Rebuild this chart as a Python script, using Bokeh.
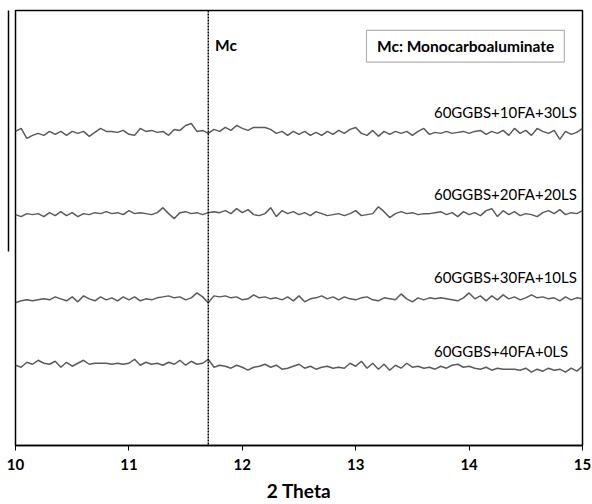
from bokeh.plotting import figure
from bokeh.models import LinearAxis, Span, Label, BoxAnnotation, FixedTicker, ColumnDataSource
from bokeh.embed import file_html
from bokeh.resources import INLINE

# 2-theta sampling grid (degrees)
two_theta = [round(10 + 0.05 * i, 2) for i in range(101)]

# Intensity (a.u., stacked patterns)
s_10fa_30ls = [
    317, 320, 310, 313, 315, 313, 317, 314, 317, 313,
    317, 315, 317, 312, 316, 320, 317, 317, 316, 318,
    314, 313, 320, 317, 318, 316, 317, 313, 319, 318,
    323, 325, 317, 318, 315, 319, 317, 321, 318, 323,
    320, 318, 321, 321, 321, 319, 315, 317, 313, 317,
    314, 317, 313, 316, 313, 317, 314, 318, 315, 319,
    321, 315, 313, 318, 312, 317, 314, 317, 315, 317,
    313, 317, 320, 314, 316, 315, 317, 315, 316, 317,
    315, 317, 318, 314, 317, 315, 318, 313, 320, 315,
    318, 313, 320, 317, 315, 318, 309, 317, 314, 316,
    320]
s_20fa_20ls = [
    233, 231, 234, 233, 234, 231, 235, 232, 236, 232,
    235, 231, 234, 233, 235, 234, 236, 234, 235, 233,
    237, 234, 235, 234, 233, 235, 240, 234, 229, 235,
    236, 234, 235, 233, 235, 236, 235, 237, 234, 239,
    235, 238, 233, 232, 234, 240, 231, 237, 234, 236,
    233, 235, 232, 236, 234, 232, 233, 234, 232, 234,
    237, 232, 233, 234, 241, 236, 230, 234, 236, 234,
    235, 233, 234, 234, 235, 236, 233, 235, 231, 236,
    233, 235, 232, 237, 239, 231, 237, 233, 236, 232,
    234, 233, 231, 235, 237, 234, 238, 233, 235, 234,
    237]
s_30fa_10ls = [
    144, 146, 147, 146, 147, 148, 147, 150, 148, 146,
    150, 145, 151, 148, 146, 150, 147, 149, 146, 150,
    147, 150, 146, 148, 147, 149, 150, 151, 149, 150,
    147, 149, 154, 150, 144, 151, 150, 151, 149, 150,
    147, 148, 152, 149, 150, 148, 149, 147, 150, 146,
    151, 145, 148, 149, 151, 148, 150, 147, 150, 148,
    147, 149, 150, 147, 146, 149, 148, 147, 153, 148,
    145, 149, 147, 149, 148, 149, 148, 147, 146, 149,
    154, 148, 151, 146, 151, 147, 152, 148, 150, 147,
    149, 152, 149, 150, 148, 149, 146, 150, 147, 149,
    148]
s_40fa_0ls = [
    81, 79, 84, 82, 86, 83, 82, 85, 79, 84,
    80, 83, 86, 82, 83, 83, 83, 82, 83, 82,
    83, 87, 81, 84, 82, 83, 81, 84, 82, 86,
    81, 85, 82, 83, 87, 79, 81, 80, 78, 81,
    79, 76, 79, 80, 82, 79, 81, 77, 78, 80,
    82, 78, 80, 77, 79, 80, 78, 79, 78, 83,
    80, 85, 78, 83, 77, 82, 76, 81, 78, 83,
    79, 80, 78, 79, 77, 80, 78, 81, 82, 79,
    80, 78, 77, 79, 76, 78, 77, 77, 77, 76,
    78, 74, 77, 75, 78, 76, 77, 74, 78, 75,
    80]

series_names = ["60GGBS+10FA+30LS", "60GGBS+20FA+20LS", "60GGBS+30FA+10LS", "60GGBS+40FA+0LS"]
series_values = [s_10fa_30ls, s_20fa_20ls, s_30fa_10ls, s_40fa_0ls]
label_y = [337, 254, 170, 95]
label_x = 13.69

x_ticks = [10, 11, 12, 13, 14, 15]
mc_position = 11.7

FONT = "Lato"

p = figure(width=592, height=504, x_range=(10, 15), y_range=(0, 439),
           output_backend="svg", toolbar_location=None, y_axis_location=None,
           min_border_left=15, min_border_right=10, min_border_top=10, min_border_bottom=55)
p.grid.visible = False
p.outline_line_color = "black"
p.outline_line_width = 1.5
p.background_fill_color = "white"
p.border_fill_color = "white"

xa = p.xaxis[0]
xa.ticker = FixedTicker(ticks=x_ticks)
xa.minor_tick_line_color = None
xa.major_tick_in = 0
xa.major_tick_out = 5
xa.major_tick_line_color = "black"
xa.axis_line_color = "black"
xa.axis_line_width = 1.5
xa.major_label_text_font = FONT
xa.major_label_text_font_style = "bold"
xa.major_label_text_font_size = "15px"
xa.major_label_text_color = "black"
xa.major_label_standoff = 8
xa.axis_label = "2 Theta"
xa.axis_label_text_font = FONT
xa.axis_label_text_font_style = "bold"
xa.axis_label_text_font_size = "19px"
xa.axis_label_text_color = "black"
xa.axis_label_standoff = 6

# inner spacer axis and outer partial axis line on the left
ax_in = LinearAxis(ticker=FixedTicker(ticks=[0]), axis_line_color=None,
                   major_tick_out=7, major_tick_in=0, major_tick_line_color=None,
                   minor_tick_line_color=None, major_label_text_font_size="0px",
                   major_label_standoff=0, major_label_text_color=None)
ax_out = LinearAxis(ticker=FixedTicker(ticks=[]), axis_line_color="black", axis_line_width=1.5,
                    bounds=(196, 439), major_tick_out=0, major_tick_in=0,
                    major_tick_line_color=None, minor_tick_line_color=None,
                    major_label_text_font_size="0px")
p.add_layout(ax_in, "left")
p.add_layout(ax_out, "left")

for name, vals, ly in zip(series_names, series_values, label_y):
    src = ColumnDataSource(dict(x=two_theta, y=vals))
    p.line("x", "y", source=src, line_color="#5a5a5a", line_width=1.5)
    p.add_layout(Label(x=label_x, y=ly, text=name, text_font=FONT, text_font_size="15px",
                       text_color="black", text_align="left", text_baseline="middle"))

p.add_layout(Span(location=mc_position, dimension="height", line_color="black",
                  line_width=1.5, line_dash="2 1"))
p.add_layout(Label(x=11.76, y=404, text="Mc", text_font=FONT, text_font_style="bold",
                   text_font_size="15.5px", text_color="black", text_align="left",
                   text_baseline="middle"))

p.add_layout(BoxAnnotation(left=13.095, right=14.84, bottom=387, top=419,
                           fill_color="white", fill_alpha=1, line_color="black", line_width=1.2))
p.add_layout(Label(x=13.97, y=403, text="Mc: Monocarboaluminate", text_font=FONT,
                   text_font_style="bold", text_font_size="15.5px", text_color="black",
                   text_align="center", text_baseline="middle"))

open("out.html", "w").write(file_html(p, INLINE))
